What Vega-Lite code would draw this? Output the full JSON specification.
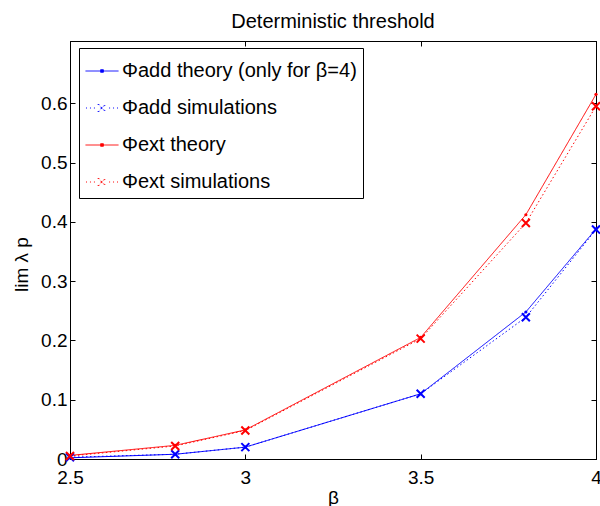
{
  "$schema": "https://vega.github.io/schema/vega-lite/v6.json",
  "width": 526,
  "height": 418,
  "autosize": {"type": "none"},
  "padding": {"left": 70, "top": 41, "right": 4, "bottom": 47},
  "background": "white",
  "title": {"text": "Deterministic threshold", "fontSize": 20, "fontWeight": "normal", "font": "Liberation Sans", "offset": 9, "color": "black"},
  "config": {
    "view": {"stroke": "black", "strokeWidth": 1},
    "font": "Liberation Sans",
    "axis": {"domainColor": "black", "tickColor": "black", "labelColor": "black", "titleColor": "black", "labelFontSize": 19, "titleFontSize": 19, "titleFontWeight": "normal", "grid": false, "tickSize": -5, "labelFont": "Liberation Sans", "titleFont": "Liberation Sans", "labelFlush": false, "labelOverlap": false, "labelBound": false}
  },
  "data": {"values": [
    {"beta": 2.5, "value": 0.002, "series": "Φadd theory (only for β=4)"},
    {"beta": 2.8, "value": 0.008, "series": "Φadd theory (only for β=4)"},
    {"beta": 3.0, "value": 0.020, "series": "Φadd theory (only for β=4)"},
    {"beta": 3.5, "value": 0.110, "series": "Φadd theory (only for β=4)"},
    {"beta": 3.8, "value": 0.248, "series": "Φadd theory (only for β=4)"},
    {"beta": 4.0, "value": 0.388, "series": "Φadd theory (only for β=4)"},
    {"beta": 2.5, "value": 0.003, "series": "Φadd simulations"},
    {"beta": 2.8, "value": 0.008, "series": "Φadd simulations"},
    {"beta": 3.0, "value": 0.020, "series": "Φadd simulations"},
    {"beta": 3.5, "value": 0.110, "series": "Φadd simulations"},
    {"beta": 3.8, "value": 0.239, "series": "Φadd simulations"},
    {"beta": 4.0, "value": 0.387, "series": "Φadd simulations"},
    {"beta": 2.5, "value": 0.006, "series": "Φext theory"},
    {"beta": 2.8, "value": 0.023, "series": "Φext theory"},
    {"beta": 3.0, "value": 0.049, "series": "Φext theory"},
    {"beta": 3.5, "value": 0.205, "series": "Φext theory"},
    {"beta": 3.8, "value": 0.412, "series": "Φext theory"},
    {"beta": 4.0, "value": 0.615, "series": "Φext theory"},
    {"beta": 2.5, "value": 0.005, "series": "Φext simulations"},
    {"beta": 2.8, "value": 0.022, "series": "Φext simulations"},
    {"beta": 3.0, "value": 0.048, "series": "Φext simulations"},
    {"beta": 3.5, "value": 0.203, "series": "Φext simulations"},
    {"beta": 3.8, "value": 0.398, "series": "Φext simulations"},
    {"beta": 4.0, "value": 0.595, "series": "Φext simulations"}
  ]},
  "layer": [
    {
      "mark": {"type": "line", "strokeWidth": 1},
      "encoding": {
        "x": {"field": "beta", "type": "quantitative", "scale": {"domain": [2.5, 4], "nice": false, "zero": false},
              "axis": {"values": [2.5, 3, 3.5, 4], "format": ".1~f", "title": "β", "labelPadding": 14, "titlePadding": 1}},
        "y": {"field": "value", "type": "quantitative", "scale": {"domain": [0, 0.705], "nice": false},
              "axis": {"values": [0, 0.1, 0.2, 0.3, 0.4, 0.5, 0.6], "format": ".1~f", "title": "lim  λ  p", "labelPadding": 8, "titlePadding": 9, "titleY": 223}},
        "color": {"field": "series", "type": "nominal",
          "scale": {"domain": ["Φadd theory (only for β=4)", "Φadd simulations", "Φext theory", "Φext simulations"], "range": ["#0000ff", "#0000ff", "#ff0000", "#ff0000"]},
          "legend": {"title": null, "orient": "none", "legendX": 9, "legendY": 7, "strokeColor": "black", "fillColor": "white", "padding": 6, "labelFontSize": 20, "labelFont": "Liberation Sans", "labelColor": "black", "labelOffset": 3, "symbolSize": 1089, "symbolStrokeWidth": 1, "rowPadding": 10, "labelLimit": 400, "cornerRadius": 0,
            "encode": {"symbols": {"update": {
              "shape": {"signal": "indexof(datum.value,'theory')>=0 ? 'M-1,0L1,0M-0.08,-0.08L0.08,-0.08L0.08,0.08L-0.08,0.08Z' : 'M-0.97,0L-0.91,0M-0.73,0L-0.67,0M-0.49,0L-0.43,0M0.43,0L0.49,0M0.67,0L0.73,0M0.91,0L0.97,0M-0.26,-0.24L0.22,0.24M-0.22,-0.24L0.26,0.24M-0.26,0.24L0.22,-0.24M-0.22,0.24L0.26,-0.24'"},
              "fill": {"signal": "indexof(datum.value,'add')>=0 ? '#0000ff' : '#ff0000'"},
              "stroke": {"signal": "indexof(datum.value,'add')>=0 ? '#0000ff' : '#ff0000'"},
              "opacity": {"value": 1},
              "size": {"value": 1089}
            }}}}
        },
        "strokeDash": {"field": "series", "type": "nominal",
          "scale": {"domain": ["Φadd theory (only for β=4)", "Φadd simulations", "Φext theory", "Φext simulations"], "range": [[1, 0], [1.5, 2.5], [1, 0], [1.5, 2.5]]},
          "legend": null}
      }
    },
    {
      "transform": [{"filter": "indexof(datum.series,'theory')>=0"}],
      "mark": {"type": "point", "filled": true, "size": 10, "shape": "circle", "opacity": 1},
      "encoding": {
        "x": {"field": "beta", "type": "quantitative", "axis": null},
        "y": {"field": "value", "type": "quantitative", "axis": null},
        "color": {"field": "series", "type": "nominal"}
      }
    },
    {
      "transform": [{"filter": "indexof(datum.series,'simulations')>=0"}],
      "mark": {"type": "point", "filled": false, "size": 64, "shape": "M-1,-1L1,1M-1,1L1,-1", "strokeWidth": 2, "opacity": 1},
      "encoding": {
        "x": {"field": "beta", "type": "quantitative", "axis": {"orient": "top", "values": [2.5, 3, 3.5, 4], "labels": false, "title": null}},
        "y": {"field": "value", "type": "quantitative", "axis": {"orient": "right", "values": [0, 0.1, 0.2, 0.3, 0.4, 0.5, 0.6], "labels": false, "title": null}},
        "color": {"field": "series", "type": "nominal"}
      }
    }
  ],
  "resolve": {"axis": {"x": "independent", "y": "independent"}}
}
